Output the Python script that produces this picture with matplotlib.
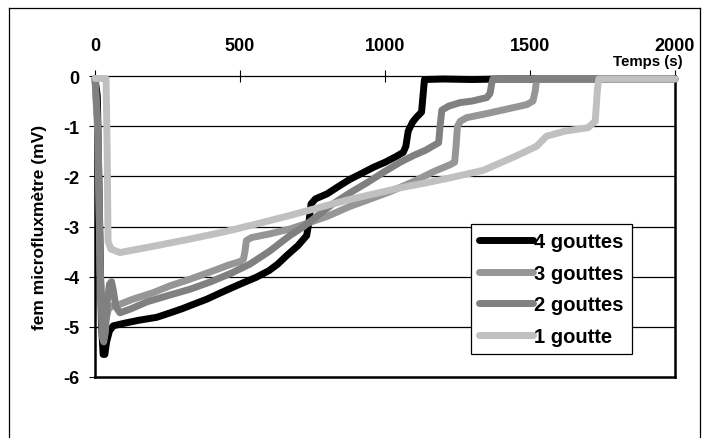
import matplotlib
matplotlib.use("Agg")
import matplotlib.pyplot as plt
from matplotlib.lines import Line2D

plt.rcParams["font.family"] = ["Liberation Sans", "DejaVu Sans"]
plt.rcParams["font.weight"] = "bold"
plt.rcParams["axes.unicode_minus"] = False

# 4 gouttes
t_4 = [0, 8, 15, 22, 28, 34, 40, 50, 63, 100, 150, 213, 260, 300, 340, 385, 430,
       480, 520, 557, 600, 630, 661, 700, 730, 738, 745, 760, 800, 840, 879, 920,
       960, 1000, 1040, 1063, 1072, 1080, 1095, 1109, 1126, 1131, 1136, 1200, 1300,
       1400, 2000]
y_4 = [-0.05, -0.4, -2.6, -4.9, -5.55, -5.55, -5.3, -5.08, -4.98, -4.93, -4.87,
       -4.81, -4.72, -4.64, -4.55, -4.45, -4.33, -4.2, -4.1, -4.01, -3.88, -3.75,
       -3.58, -3.38, -3.18, -2.9, -2.55, -2.45, -2.35, -2.2, -2.06, -1.94, -1.82,
       -1.72, -1.6, -1.52, -1.4, -1.1, -0.92, -0.82, -0.72, -0.4, -0.07, -0.06,
       -0.07, -0.06, -0.06]

# 3 gouttes
t_3 = [0, 10, 18, 25, 30, 38, 46, 60, 86, 130, 200, 260, 328, 400, 460, 500, 512,
       517, 522, 540, 600, 672, 740, 800, 879, 950, 1020, 1100, 1170, 1224, 1240,
       1245, 1250, 1260, 1282, 1350, 1420, 1489, 1510, 1518, 1523, 1600, 2000]
y_3 = [-0.05, -1.2, -4.0, -4.9, -5.0, -4.85, -4.65, -4.58, -4.55, -4.45, -4.32,
       -4.18, -4.05, -3.9, -3.77, -3.7, -3.65, -3.5, -3.28, -3.22, -3.15, -3.05,
       -2.92, -2.8, -2.6, -2.45, -2.3, -2.1, -1.9, -1.77, -1.72, -1.4, -1.0, -0.9,
       -0.83, -0.75, -0.66, -0.57, -0.5, -0.3, -0.06, -0.06, -0.06]

# 2 gouttes
t_2 = [0, 10, 18, 25, 30, 36, 42, 50, 57, 64, 72, 86, 120, 180, 250, 328, 400, 470,
       534, 600, 672, 720, 764, 820, 879, 940, 1000, 1052, 1100, 1140, 1185, 1190,
       1196, 1220, 1259, 1300, 1351, 1362, 1368, 1372, 1500, 1700, 2000]
y_2 = [-0.05, -1.0, -3.8, -5.2, -5.3, -5.1, -4.5, -4.15, -4.1, -4.3, -4.6, -4.72,
       -4.65, -4.5, -4.38, -4.25, -4.1, -3.93, -3.75, -3.5, -3.18, -3.0, -2.8,
       -2.55, -2.33, -2.12, -1.9, -1.72, -1.58, -1.48, -1.33, -1.0, -0.68, -0.6,
       -0.53, -0.5, -0.43, -0.35, -0.15, -0.06, -0.06, -0.06, -0.06]

# 1 goutte
t_1 = [0, 38, 42, 45, 55, 86, 150, 213, 328, 450, 557, 672, 800, 879, 1000, 1052,
       1150, 1224, 1339, 1450, 1523, 1557, 1620, 1700, 1725, 1732, 1737, 2000]
y_1 = [-0.05, -0.05, -1.5, -3.3, -3.45, -3.52, -3.45, -3.38, -3.25, -3.1, -2.95,
       -2.78, -2.58, -2.46, -2.3, -2.23, -2.12, -2.03, -1.88, -1.6, -1.4, -1.2,
       -1.1, -1.03, -0.9, -0.3, -0.06, -0.06]

series = [
    ("4 gouttes", t_4, y_4, "#000000"),
    ("3 gouttes", t_3, y_3, "#969696"),
    ("2 gouttes", t_2, y_2, "#808080"),
    ("1 goutte", t_1, y_1, "#c0c0c0"),
]

x_ticks = [0, 500, 1000, 1500, 2000]
y_ticks = [0, -1, -2, -3, -4, -5, -6]

fig = plt.figure(figsize=(7.1, 4.39), dpi=100)
ax = fig.add_axes([95 / 710, 1 - 378 / 439, 580 / 710, 301 / 439])

for label, t, y, c in series:
    ax.plot(t, y, color=c, lw=5.0, label=label, solid_capstyle="round",
            solid_joinstyle="round", clip_on=False, zorder=3)

ax.set_xlim(0, 2000)
ax.set_ylim(-6, 0)
ax.xaxis.tick_top()
ax.set_xticks(x_ticks)
ax.set_yticks(y_ticks)
ax.tick_params(axis="x", direction="inout", length=8, width=0.8, pad=12, labelsize=13)
ax.tick_params(axis="y", direction="inout", length=8, width=0.8, pad=7, labelsize=13)
for lab in ax.get_xticklabels() + ax.get_yticklabels():
    lab.set_fontweight("bold")

for v in [-1, -2, -3, -4, -5]:
    ax.axhline(v, color="black", lw=0.9, zorder=1)

for side in ("left", "right", "bottom"):
    ax.spines[side].set_linewidth(1.8)
ax.spines["top"].set_linewidth(0.9)

ax.set_ylabel("fem microfluxmètre (mV)", fontsize=12.5, fontweight="bold", labelpad=12)
ax.text(0.953, 1.05, "Temps (s)", transform=ax.transAxes, ha="center", va="center",
        fontsize=10.8, fontweight="bold")

leg = ax.legend(loc="upper left", bbox_to_anchor=(0.648, 0.508), fontsize=14.5,
                handlelength=2.7, handletextpad=0.05, labelspacing=0.62,
                borderpad=0.4, borderaxespad=0, fancybox=False, frameon=True,
                framealpha=1)
leg.get_frame().set_edgecolor("black")
leg.get_frame().set_linewidth(0.9)
for txt in leg.get_texts():
    txt.set_fontweight("bold")

# outer chart frame
fx0, fx1, fy1 = 9 / 710, 700 / 710, 1 - 9 / 439
fig.add_artist(Line2D([fx0, fx0], [0, fy1], color="black", lw=0.9))
fig.add_artist(Line2D([fx0, fx1], [fy1, fy1], color="black", lw=0.9))
fig.add_artist(Line2D([fx1, fx1], [0, fy1], color="black", lw=0.9))

fig.savefig("out.png", dpi=100)
